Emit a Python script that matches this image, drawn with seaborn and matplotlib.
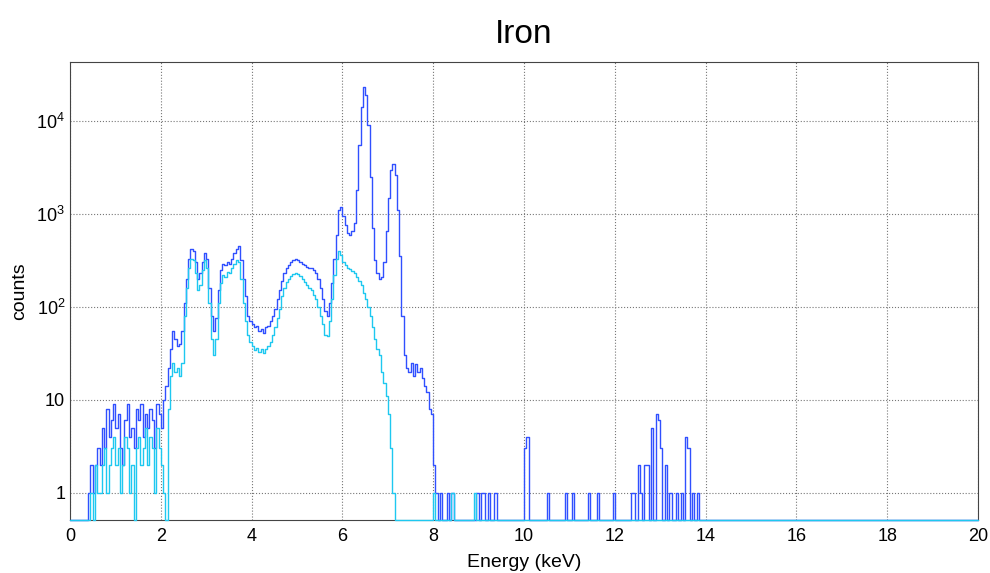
import numpy as np
import pandas as pd
import seaborn as sns
import matplotlib.pyplot as plt
from matplotlib.ticker import MultipleLocator, LogLocator, FixedLocator, NullFormatter

# spectrum, 0.05 keV bins starting at 0 keV
bin_width = 0.05
blue_counts = [
    0, 0, 0, 0, 0, 0, 0, 0, 1, 2, 1, 2, 3, 2, 5, 3, 8, 4, 6, 9,
    5, 7, 3, 2, 6, 9, 4, 5, 3, 8, 6, 9, 4, 7, 5, 8, 6, 3, 9, 7,
    5, 10, 14, 22, 35, 55, 45, 38, 40, 55, 110, 200, 330, 420, 400, 300, 200, 230, 300, 380,
    330, 160, 80, 55, 75, 150, 250, 290, 280, 300, 290, 330, 380, 420, 450, 320, 200, 130, 80, 70,
    65, 60, 62, 55, 58, 52, 60, 62, 70, 80, 95, 120, 150, 190, 230, 260, 280, 300, 320, 330,
    320, 300, 290, 280, 270, 260, 260, 250, 230, 200, 160, 120, 90, 80, 110, 180, 330, 600, 1100, 1200,
    950, 750, 620, 600, 650, 800, 1800, 5500, 14000, 23000, 19000, 9000, 2500, 700, 320, 230, 200, 210, 300, 650,
    1500, 3000, 3400, 2600, 1100, 350, 80, 30, 22, 20, 25, 18, 24, 20, 22, 17, 14, 12, 8, 7,
    2, 1,
]
cyan_counts = [
    0, 0, 0, 0, 0, 0, 0, 0, 0, 1, 0, 2, 1, 1, 2, 3, 1, 2, 3, 4,
    2, 3, 1, 2, 4, 3, 1, 2, 0, 3, 4, 2, 3, 5, 2, 4, 3, 1, 5, 3,
    2, 1, 0, 8, 18, 25, 20, 22, 18, 25, 80, 160, 260, 330, 320, 230, 150, 170, 250, 320,
    260, 110, 45, 30, 45, 110, 180, 220, 210, 240, 230, 260, 290, 320, 300, 200, 110, 70, 50, 42,
    38, 34, 36, 33, 35, 32, 35, 38, 42, 50, 60, 75, 95, 130, 160, 185, 200, 215, 225, 230,
    225, 215, 200, 185, 170, 160, 150, 135, 120, 100, 80, 65, 50, 48, 70, 120, 220, 330, 400, 360,
    300, 280, 265, 255, 245, 230, 210, 190, 170, 140, 120, 100, 80, 60, 45, 35, 30, 20, 15, 11,
    7, 3, 1,
]

# sparse counts above 8 keV (bin start energy, counts)
blue_tail_e = [8.15, 8.30, 8.40, 8.95, 9.05, 9.10, 9.20, 9.35, 10.00, 10.05, 10.50, 10.90,
               11.05, 11.40, 11.60, 11.95, 12.35, 12.40, 12.50, 12.55, 12.65, 12.70, 12.80,
               12.90, 12.95, 13.00, 13.10, 13.20, 13.35, 13.45, 13.55, 13.60, 13.70, 13.80]
blue_tail_c = [1, 1, 1, 1, 1, 1, 1, 1, 3, 4, 1, 1,
               1, 1, 1, 1, 1, 1, 2, 1, 2, 2, 5,
               7, 6, 3, 2, 1, 1, 1, 4, 3, 1, 1]
cyan_tail_e = [8.00, 8.40, 8.90]
cyan_tail_c = [1, 1, 1]

x_min, x_max = 0, 20
y_min, y_max = 0.51, 43000

n_bins = int(round((x_max - x_min) / bin_width))
centers = x_min + bin_width * (np.arange(n_bins) + 0.5)


def full_spectrum(counts, tail_e, tail_c):
    c = np.zeros(n_bins)
    c[:len(counts)] = counts
    for e, n in zip(tail_e, tail_c):
        c[int(round(e / bin_width))] = n
    # empty bins sit on the lower frame edge, like ROOT draws them
    return np.where(c > 0, c, y_min)


df = pd.DataFrame({
    'energy': centers,
    'blue': full_spectrum(blue_counts, blue_tail_e, blue_tail_c),
    'cyan': full_spectrum(cyan_counts, cyan_tail_e, cyan_tail_c),
})

sns.set_theme(style='white')
plt.rcParams['font.family'] = ['Liberation Sans', 'DejaVu Sans']
plt.rcParams['mathtext.fontset'] = 'custom'
plt.rcParams['mathtext.rm'] = 'Liberation Sans'
plt.rcParams['mathtext.it'] = 'Liberation Sans'
plt.rcParams['text.color'] = 'black'
plt.rcParams['axes.labelcolor'] = 'black'

fig = plt.figure(figsize=(9.9, 5.73), dpi=100)
ax = fig.add_axes([70 / 990, 1 - 520 / 573, 908 / 990, 458 / 573])

sns.histplot(data=df, x='energy', weights='blue', binwidth=bin_width, binrange=(x_min, x_max),
             element='step', fill=False, color='#3050ff', linewidth=1.0, ax=ax)
sns.histplot(data=df, x='energy', weights='cyan', binwidth=bin_width, binrange=(x_min, x_max),
             element='step', fill=False, color='#1ec8f0', linewidth=1.0, ax=ax)

# let the empty-bin baseline lie on top of the frame
for art in list(ax.lines) + list(ax.collections) + list(ax.patches):
    art.set_clip_on(False)
    art.set_zorder(3)

ax.set_yscale('log')
ax.set_xlim(x_min, x_max)
ax.set_ylim(y_min, y_max)

ax.xaxis.set_major_locator(MultipleLocator(2))
ax.xaxis.set_minor_locator(MultipleLocator(0.4))
ax.yaxis.set_major_locator(FixedLocator([1, 10, 100, 1000, 10000]))
ax.yaxis.set_minor_locator(LogLocator(base=10, subs=np.arange(2, 10)))
ax.yaxis.set_minor_formatter(NullFormatter())
ax.set_yticklabels(['1', '10', '$10^{2}$', '$10^{3}$', '$10^{4}$'])

ax.tick_params(axis='both', which='both', direction='in', colors='#333333', labelcolor='black',
               labelsize=13, width=0.8)
ax.tick_params(axis='both', which='major', length=10)
ax.tick_params(axis='both', which='minor', length=5)
ax.tick_params(axis='x', pad=6)

ax.grid(True, which='major', linestyle=':', color='#777777', linewidth=0.8)
for s in ax.spines.values():
    s.set_color('#444444')
    s.set_linewidth(0.8)

ax.set_xlabel('Energy (keV)', fontsize=14, labelpad=6)
ax.set_ylabel('counts', fontsize=14, labelpad=6)
ax.set_title('Iron', fontsize=24, pad=14)

fig.savefig('out.png', dpi=100)
